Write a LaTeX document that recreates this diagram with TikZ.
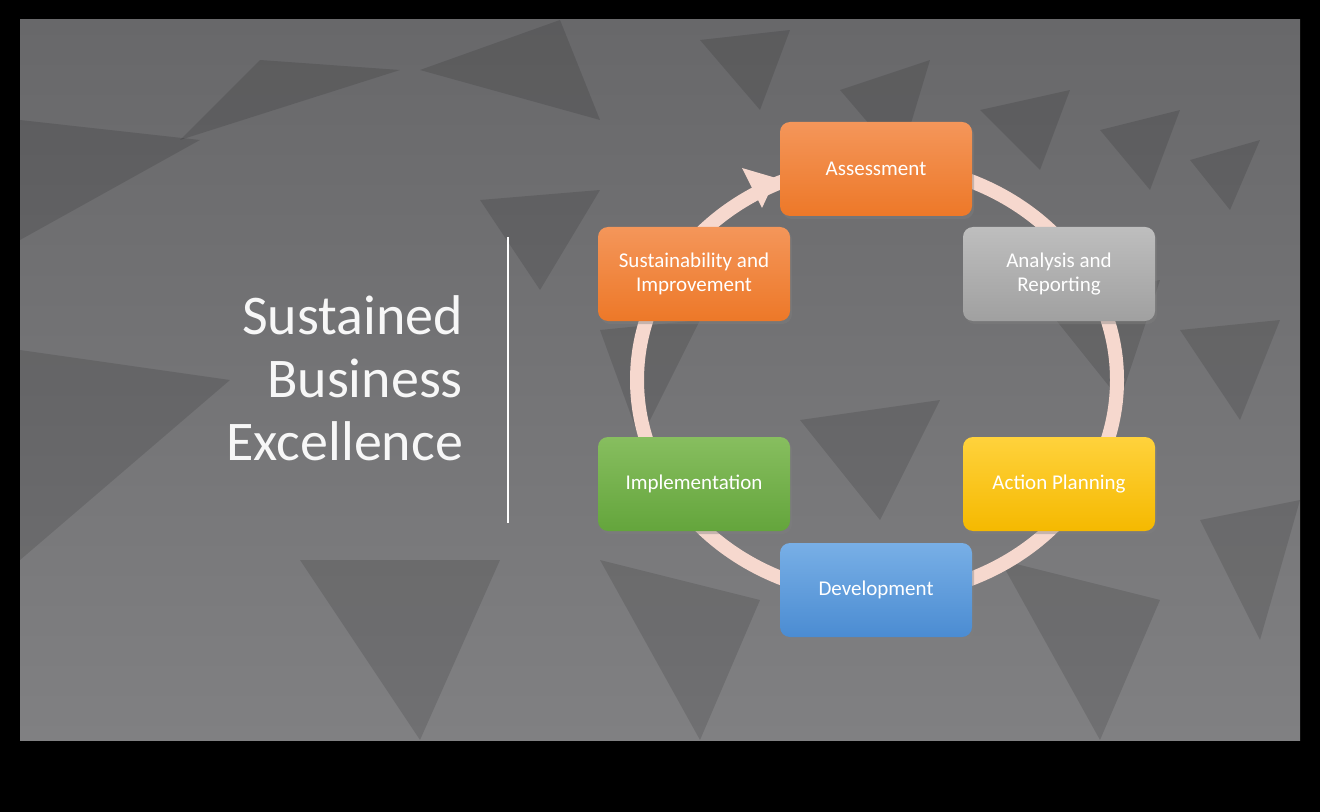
\documentclass[tikz,border=0pt]{standalone}
\usepackage{fontspec}
\setmainfont{Carlito}
\usetikzlibrary{shadows}
\definecolor{bgA}{RGB}{128,128,130}
\definecolor{bgB}{RGB}{104,104,106}
\definecolor{ring}{RGB}{246,216,206}
\definecolor{cOr}{RGB}{237,120,40}
\definecolor{cOrL}{RGB}{244,150,90}
\definecolor{cGr}{RGB}{160,160,160}
\definecolor{cGrL}{RGB}{190,190,190}
\definecolor{cYe}{RGB}{245,185,0}
\definecolor{cYeL}{RGB}{255,210,60}
\definecolor{cBl}{RGB}{75,140,210}
\definecolor{cBlL}{RGB}{120,175,230}
\definecolor{cGn}{RGB}{100,165,60}
\definecolor{cGnL}{RGB}{135,190,95}
\tikzset{
  box/.style n args={2}{rounded corners=5pt, minimum width=96pt, minimum height=47pt,
    top color=#2, bottom color=#1, draw=none, text=white, font=\fontsize{10.5}{12}\selectfont,
    align=center, drop shadow={opacity=0.4, shadow xshift=1pt, shadow yshift=-1.5pt}},
  tri/.style={fill=black, opacity=0.12, draw=none}
}
\begin{document}
\begin{tikzpicture}[x=0.5pt,y=-0.5pt]
\useasboundingbox (0,0) rectangle (1320,812);
\fill[black] (0,0) rectangle (1320,812);
\shade[top color=bgB, bottom color=bgA] (20,20) rectangle (1300,740);
\begin{scope}
\clip (20,20) rectangle (1300,740);
\fill[tri] (20,240) -- (200,140) -- (20,120) -- cycle;
\fill[tri] (180,140) -- (260,60) -- (400,70) -- cycle;
\fill[tri] (420,70) -- (560,20) -- (600,120) -- cycle;
\fill[tri] (20,560) -- (230,380) -- (20,350) -- cycle;
\fill[tri] (480,200) -- (540,290) -- (600,190) -- cycle;
\fill[tri] (700,40) -- (760,110) -- (790,30) -- cycle;
\fill[tri] (840,90) -- (900,160) -- (930,60) -- cycle;
\fill[tri] (980,110) -- (1040,170) -- (1070,90) -- cycle;
\fill[tri] (1100,130) -- (1150,190) -- (1180,110) -- cycle;
\fill[tri] (1190,160) -- (1230,210) -- (1260,140) -- cycle;
\fill[tri] (1040,300) -- (1120,400) -- (1160,280) -- cycle;
\fill[tri] (1180,330) -- (1240,420) -- (1280,320) -- cycle;
\fill[tri] (800,420) -- (880,520) -- (940,400) -- cycle;
\fill[tri] (300,560) -- (420,740) -- (500,560) -- cycle;
\fill[tri] (600,560) -- (700,740) -- (760,600) -- cycle;
\fill[tri] (1000,560) -- (1100,740) -- (1160,600) -- cycle;
\fill[tri] (1200,520) -- (1260,640) -- (1300,500) -- cycle;
\fill[tri] (600,330) -- (640,440) -- (700,320) -- cycle;
\end{scope}
% title
\node[anchor=east, align=right, text=white!94!gray, font=\fontsize{28}{31.5}\selectfont] (title) at (470,378) {Sustained\\Business\\Excellence};
\coordinate (lt) at (508,237);
\coordinate (lb) at (508,523);
\draw[white, line width=1.3pt] (lt) -- (lb);
% ring
\draw[ring, line width=7pt] (877,380) ellipse [x radius=240, y radius=216];
\coordinate (ah) at (776,178);
\fill[ring] (ah) -- (742,168) -- (762,208) -- cycle;
% boxes
\node[box={cOr}{cOrL}] (a) at (876,169) {Assessment};
\node[box={cGr}{cGrL}] (b) at (1059,274) {Analysis and\\Reporting};
\node[box={cYe}{cYeL}] (c) at (1059,484) {Action Planning};
\node[box={cBl}{cBlL}] (d) at (876,590) {Development};
\node[box={cGn}{cGnL}] (e) at (694,484) {Implementation};
\node[box={cOr}{cOrL}] (f) at (694,274) {Sustainability and\\Improvement};
\end{tikzpicture}
\end{document}
